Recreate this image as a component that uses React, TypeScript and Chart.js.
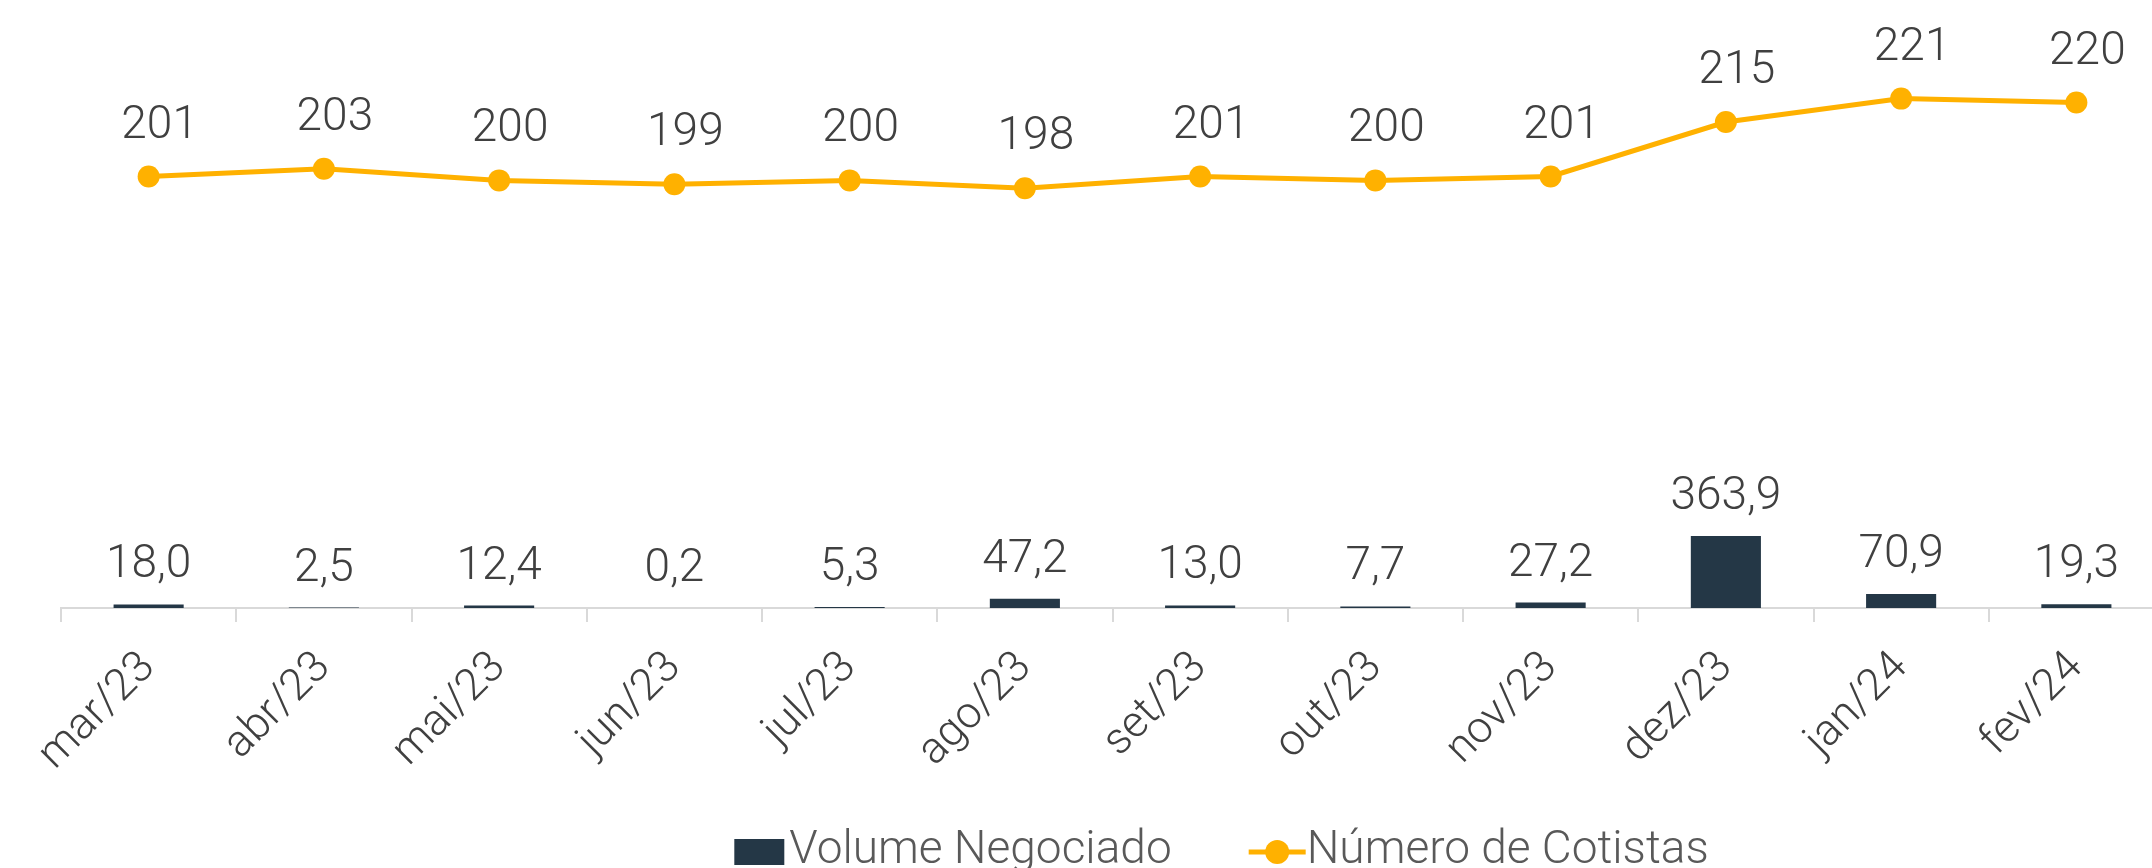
import React, { useEffect, useRef } from "react";
import { Chart, registerables } from "chart.js";

Chart.register(...registerables);

const categories = ["mar/23", "abr/23", "mai/23", "jun/23", "jul/23", "ago/23", "set/23", "out/23", "nov/23", "dez/23", "jan/24", "fev/24"];
const volumeNegociado = [18.0, 2.5, 12.4, 0.2, 5.3, 47.2, 13.0, 7.7, 27.2, 363.9, 70.9, 19.3];
const numeroCotistas = [201, 203, 200, 199, 200, 198, 201, 200, 201, 215, 221, 220];
const seriesNames = ["Volume Negociado", "Número de Cotistas"];

const BAR_COLOR = "#243746";
const LINE_COLOR = "#FFB100";
const FONT_FAMILY = "Roboto, 'Noto Sans', sans-serif";

const fmtVolume = (v: number) => v.toFixed(1).replace(".", ",");

const valueLabelsPlugin = {
  id: "valueLabels",
  afterDatasetsDraw(chart: any) {
    const ctx = chart.ctx;
    ctx.save();
    ctx.font = `300 46px ${FONT_FAMILY}`;
    ctx.fillStyle = "#404040";
    ctx.textAlign = "center";
    ctx.textBaseline = "alphabetic";
    chart.getDatasetMeta(0).data.forEach((el: any, i: number) => {
      const { x, y } = el.getProps(["x", "y"], true);
      ctx.fillText(fmtVolume(volumeNegociado[i]), x, y - 27);
    });
    chart.getDatasetMeta(1).data.forEach((el: any, i: number) => {
      const { x, y } = el.getProps(["x", "y"], true);
      ctx.fillText(String(numeroCotistas[i]), x + 11, y - 39);
    });
    ctx.restore();
  },
};

const legendPlugin = {
  id: "customLegend",
  afterDraw(chart: any) {
    const ctx = chart.ctx;
    ctx.save();
    ctx.font = `300 46px ${FONT_FAMILY}`;
    const w1 = ctx.measureText(seriesNames[0]).width;
    const w2 = ctx.measureText(seriesNames[1]).width;
    const boxW = 50, boxH = 26, gapBox = 5, gapItems = 77, lineW = 57, gapLine = 1;
    const total = boxW + gapBox + w1 + gapItems + lineW + gapLine + w2;
    let x = chart.width / 2 - total / 2;
    const cy = chart.chartArea.bottom + 244;
    ctx.fillStyle = BAR_COLOR;
    ctx.fillRect(x, cy - boxH / 2, boxW, boxH);
    x += boxW + gapBox;
    ctx.fillStyle = "#595959";
    ctx.textAlign = "left";
    ctx.textBaseline = "alphabetic";
    ctx.fillText(seriesNames[0], x, cy + 11);
    x += w1 + gapItems;
    ctx.strokeStyle = LINE_COLOR;
    ctx.lineWidth = 5;
    ctx.beginPath();
    ctx.moveTo(x, cy);
    ctx.lineTo(x + lineW, cy);
    ctx.stroke();
    ctx.fillStyle = LINE_COLOR;
    ctx.beginPath();
    ctx.arc(x + lineW / 2, cy, 12, 0, Math.PI * 2);
    ctx.fill();
    x += lineW + gapLine;
    ctx.fillStyle = "#595959";
    ctx.fillText(seriesNames[1], x, cy + 11);
    ctx.restore();
  },
};

export default function App() {
  const canvasRef = useRef<HTMLCanvasElement | null>(null);

  useEffect(() => {
    if (!canvasRef.current) return;
    const chart = new Chart(canvasRef.current, {
      type: "bar",
      data: {
        labels: categories,
        datasets: [
          {
            type: "bar",
            label: seriesNames[0],
            data: volumeNegociado,
            backgroundColor: BAR_COLOR,
            yAxisID: "y",
            barPercentage: 0.4,
            categoryPercentage: 1,
            order: 2,
          },
          {
            type: "line",
            label: seriesNames[1],
            data: numeroCotistas,
            borderColor: LINE_COLOR,
            backgroundColor: LINE_COLOR,
            borderWidth: 5,
            pointRadius: 11,
            pointBackgroundColor: LINE_COLOR,
            pointBorderWidth: 0,
            yAxisID: "y1",
            order: 1,
            tension: 0,
          },
        ],
      } as any,
      options: {
        animation: false,
        responsive: false,
        layout: { padding: { left: 61, right: 279, top: 10, bottom: 92 } },
        plugins: { legend: { display: false }, tooltip: { enabled: false } },
        scales: {
          x: {
            grid: { display: true, drawOnChartArea: false, offset: true, tickLength: 14, color: "#D9D9D9", lineWidth: 2 },
            border: { display: true, color: "#D9D9D9", width: 2 },
            ticks: {
              minRotation: 45,
              maxRotation: 45,
              padding: 20,
              autoSkip: false,
              color: "#404040",
              font: { family: FONT_FAMILY, size: 44, weight: "300" },
            },
            afterFit: (s: any) => {
              s.height = 200;
            },
          },
          y: { display: false, min: 0, max: 3020 },
          y1: { display: false, min: 90.2, max: 243.5 },
        },
      } as any,
      plugins: [valueLabelsPlugin, legendPlugin],
    });
    return () => chart.destroy();
  }, []);

  return (
    <div style={{ position: "fixed", left: 0, top: 0, width: 2152, height: 868, overflow: "hidden", background: "#fff" }}>
      <canvas ref={canvasRef} width={2443} height={900} style={{ display: "block" }} />
    </div>
  );
}
